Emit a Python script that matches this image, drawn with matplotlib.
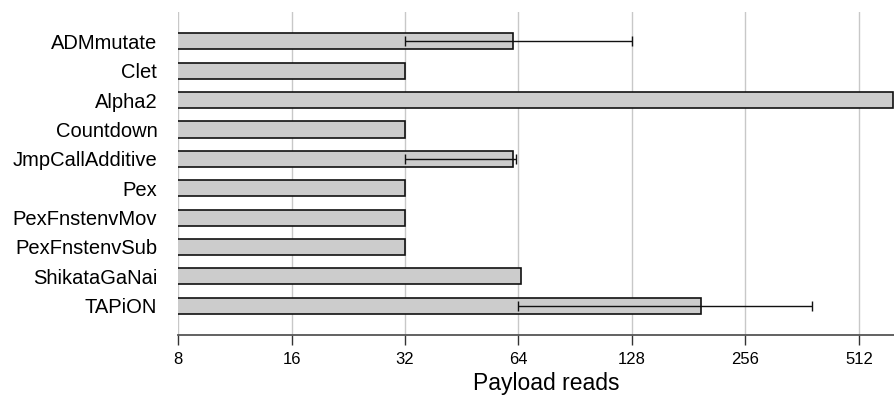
import matplotlib.pyplot as plt
from matplotlib.ticker import FixedLocator, NullLocator

plt.rcParams['font.family'] = ['Liberation Sans', 'DejaVu Sans']

encoders = ['ADMmutate', 'Clet', 'Alpha2', 'Countdown', 'JmpCallAdditive',
            'Pex', 'PexFnstenvMov', 'PexFnstenvSub', 'ShikataGaNai', 'TAPiON']
reads = [62, 32, 630, 32, 62, 32, 32, 32, 65, 195]
err_low = [32, None, None, None, 32, None, None, None, None, 64]
err_high = [128, None, None, None, 63, None, None, None, None, 385]

xticks = [8, 16, 32, 64, 128, 256, 512]

fig = plt.figure(figsize=(8.95, 3.98), dpi=100)
# the original seems cropped on the right, so the axes run past the edge
ax = fig.add_axes([0.199, 0.158, 0.823, 0.812])

ypos = list(range(len(encoders)))
ax.barh(ypos, reads, height=0.55, left=0, color='#cccccc', edgecolor='#111111',
        linewidth=1.2, zorder=2)

# error bars only where there is a spread
for y, r, lo, hi in zip(ypos, reads, err_low, err_high):
    if lo is None:
        continue
    ax.errorbar(r, y, xerr=[[r - lo], [hi - r]], fmt='none', ecolor='#111111',
                elinewidth=1.0, capsize=3.5, capthick=1.0, zorder=3)

ax.set_xscale('log', base=2)
ax.set_xlim(8, 720)
ax.set_ylim(len(encoders) - 0.0, -1.0)
ax.xaxis.set_major_locator(FixedLocator(xticks))
ax.xaxis.set_minor_locator(NullLocator())
ax.set_xticklabels([str(t) for t in xticks], fontsize=12)
ax.set_yticks(ypos)
ax.set_yticklabels(encoders, fontsize=14.5)
ax.tick_params(axis='y', length=0, pad=15)
ax.tick_params(axis='x', length=7, width=1.0, color='#333333', pad=5.5)
ax.set_xlabel('Payload reads', fontsize=16.5, labelpad=3)

ax.grid(axis='x', color='#c8c8c8', linewidth=1.0, zorder=0)
ax.set_axisbelow(True)
for side in ['top', 'right', 'left']:
    ax.spines[side].set_visible(False)
ax.spines['bottom'].set_color('#555555')
ax.spines['bottom'].set_linewidth(1.3)

fig.savefig('out.png', dpi=100)
